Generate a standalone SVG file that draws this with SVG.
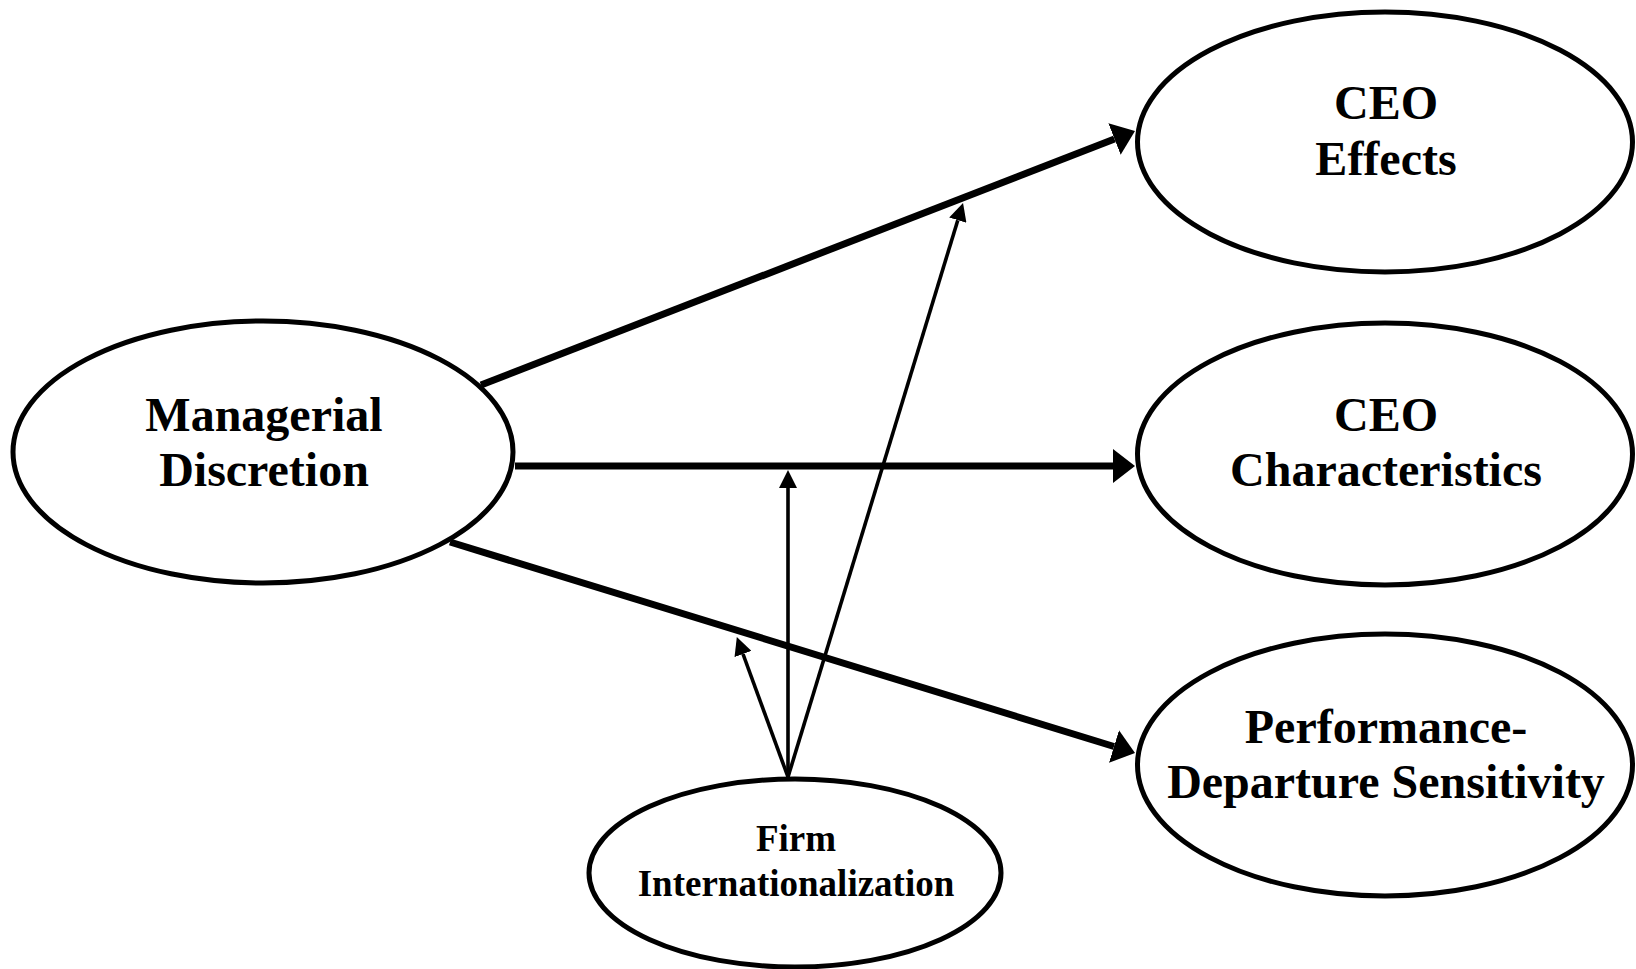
<svg xmlns="http://www.w3.org/2000/svg" width="1636" height="969" viewBox="0 0 1636 969">
  <style>
    .node { fill: #ffffff; stroke: #000000; stroke-width: 5; }
    .lbl { font-family: "Liberation Serif", "Times New Roman", serif; font-weight: bold; font-size: 48px; text-anchor: middle; fill: #000000; }
    .lbl-s { font-size: 37px; }
    .thick { stroke: #000000; stroke-width: 7; fill: none; }
    .thin { stroke: #000000; stroke-width: 3.6; fill: none; }
  </style>
  <defs>
    <marker id="bigArrow" markerUnits="userSpaceOnUse" markerWidth="24" markerHeight="34" refX="0" refY="17" orient="auto" viewBox="0 0 24 34">
      <path d="M0,0 L22,17 L0,34 Z" fill="#000000"/>
    </marker>
    <marker id="smallArrow" markerUnits="userSpaceOnUse" markerWidth="19" markerHeight="18" refX="0" refY="9" orient="auto" viewBox="0 0 19 18">
      <path d="M0,0 L18,9 L0,18 Z" fill="#000000"/>
    </marker>
  </defs>
  <rect x="0" y="0" width="1636" height="969" fill="#ffffff"/>

  <g id="connectors">
    <line class="thick" x1="481" y1="385" x2="1114.5" y2="139" marker-end="url(#bigArrow)"/>
    <line class="thick" x1="515" y1="466" x2="1113" y2="466" marker-end="url(#bigArrow)"/>
    <line class="thick" x1="450" y1="542" x2="1114" y2="746.5" marker-end="url(#bigArrow)"/>
    <line class="thin" x1="788" y1="777" x2="743" y2="654" marker-end="url(#smallArrow)"/>
    <line class="thin" x1="788" y1="777" x2="788" y2="488" marker-end="url(#smallArrow)"/>
    <line class="thin" x1="788" y1="777" x2="957.8" y2="220.2" marker-end="url(#smallArrow)"/>
  </g>

  <g id="managerial-discretion">
    <ellipse class="node" cx="263" cy="452" rx="250" ry="131"/>
    <text class="lbl" x="264" y="431">Managerial</text>
    <text class="lbl" x="264" y="486">Discretion</text>
  </g>

  <g id="ceo-effects">
    <ellipse class="node" cx="1385" cy="142" rx="247.5" ry="130"/>
    <text class="lbl" x="1386" y="119">CEO</text>
    <text class="lbl" x="1386" y="175">Effects</text>
  </g>

  <g id="ceo-characteristics">
    <ellipse class="node" cx="1385" cy="454" rx="247.5" ry="131"/>
    <text class="lbl" x="1386" y="431">CEO</text>
    <text class="lbl" x="1386" y="486">Characteristics</text>
  </g>

  <g id="performance-departure">
    <ellipse class="node" cx="1385" cy="765" rx="247.5" ry="131"/>
    <text class="lbl" x="1386" y="743">Performance-</text>
    <text class="lbl" x="1386" y="798">Departure Sensitivity</text>
  </g>

  <g id="firm-internationalization">
    <ellipse class="node" cx="795" cy="873" rx="206" ry="94"/>
    <text class="lbl lbl-s" x="796" y="851">Firm</text>
    <text class="lbl lbl-s" x="796" y="896">Internationalization</text>
  </g>
</svg>
